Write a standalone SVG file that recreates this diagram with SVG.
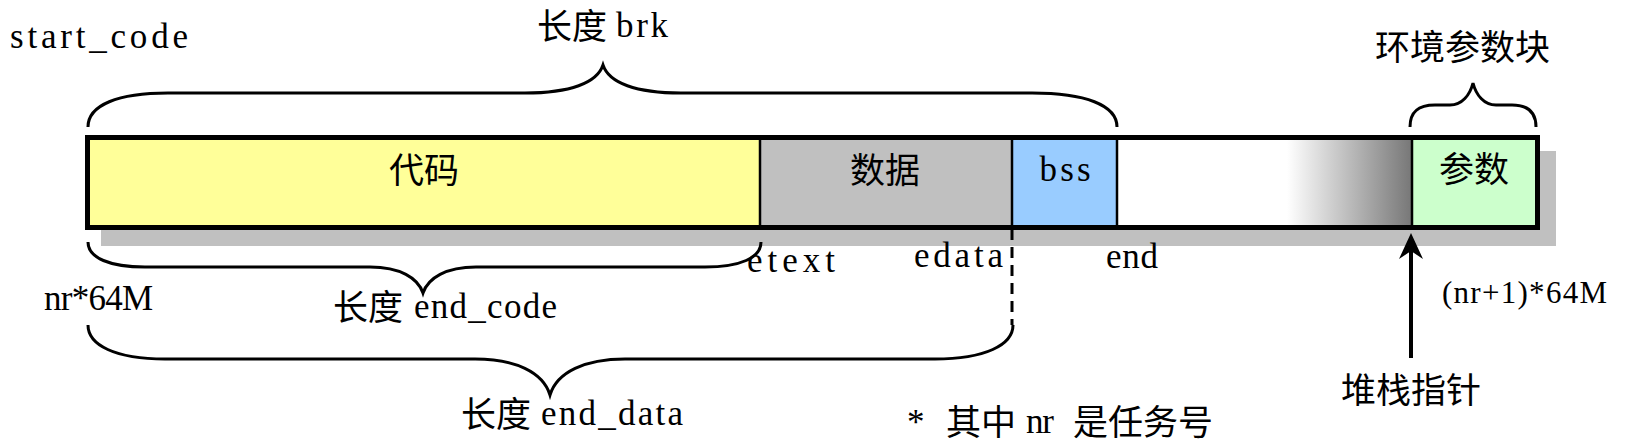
<svg xmlns="http://www.w3.org/2000/svg" width="1625" height="442" viewBox="0 0 1625 442">
<style>
.lat{font-family:"Liberation Serif","DejaVu Serif",serif;font-size:35px;fill:#000}
.cjk{font-family:"Noto Sans CJK SC","Noto Sans CJK TC",sans-serif;font-size:35px;fill:#000}
.brace{fill:none;stroke:#000;stroke-width:3}
.div{stroke:#000;stroke-width:2.5}
</style>
<defs>
<linearGradient id="fade" gradientUnits="userSpaceOnUse" x1="1287" y1="0" x2="1412" y2="0">
<stop offset="0" stop-color="#ffffff"/>
<stop offset="1" stop-color="#777777"/>
</linearGradient>
</defs>
<rect width="1625" height="442" fill="#ffffff"/>
<g id="shadow"><rect x="101" y="151" width="1455" height="95" fill="#c0c0c0"/></g>
<g id="seg-code"><rect x="88" y="138" width="672" height="89" fill="#ffff99"/><text class="cjk" x="424" y="183" text-anchor="middle">代码</text></g>
<g id="seg-data"><rect x="760" y="138" width="252" height="89" fill="#c0c0c0"/><text class="cjk" x="885" y="183" text-anchor="middle">数据</text></g>
<g id="seg-bss"><rect x="1012" y="138" width="105" height="89" fill="#99ccff"/><text class="lat" x="1065" y="181" text-anchor="middle" textLength="51">bss</text></g>
<g id="seg-free"><rect x="1117" y="138" width="295" height="89" fill="url(#fade)"/></g>
<g id="seg-params"><rect x="1412" y="138" width="125" height="89" fill="#ccffcc"/><text class="cjk" x="1474" y="182" text-anchor="middle">参数</text></g>
<g id="bar-frame">
<line class="div" x1="760" y1="138" x2="760" y2="227"/>
<line class="div" x1="1012" y1="138" x2="1012" y2="227"/>
<line class="div" x1="1117" y1="138" x2="1117" y2="227"/>
<line class="div" x1="1412" y1="138" x2="1412" y2="227"/>
<rect x="87.5" y="137.5" width="1450" height="90" fill="none" stroke="#000" stroke-width="5"/>
</g>
<g id="connectors">
<path class="brace" d="M88,127 C88,105 118,93 168,93 L525,93 C570,93 597,83 603,65 C609,83 636,93 681,93 L1032,93 C1085,93 1117,105 1117,127"/>
<path class="brace" d="M1410,127 C1410,112 1418,105 1435,105 L1450,105 C1462,105 1470,95 1473,83 C1476,95 1484,105 1496,105 L1512,105 C1528,105 1536,112 1536,127"/>
<path class="brace" d="M88,242 C88,258 110,267 145,267 L370,267 C400,267 418,278 423,293 C428,278 446,267 476,267 L705,267 C740,267 761,258 761,242"/>
<path class="brace" d="M88,325 C88,345 115,359 165,359 L475,359 C515,359 543,372 550,395 C557,372 585,359 625,359 L935,359 C985,359 1013,345 1013,325"/>
<line x1="1012" y1="229" x2="1012" y2="325" stroke="#000" stroke-width="3" stroke-dasharray="11,7"/>
<line x1="1411" y1="358" x2="1411" y2="250" stroke="#000" stroke-width="4"/>
<polygon points="1411,233 1423,259 1411,251 1399,259" fill="#000"/>
</g>
<g id="labels">
<text class="lat" x="10" y="48" textLength="178">start_code</text>
<text class="cjk" x="537" y="39">长度</text><text class="lat" x="616" y="37" textLength="52">brk</text>
<text class="cjk" x="1375" y="60">环境参数块</text>
<text class="lat" x="747" y="272" textLength="88">etext</text>
<text class="lat" x="914" y="267" textLength="89">edata</text>
<text class="lat" x="1106" y="268" textLength="52">end</text>
<text class="lat" x="44" y="310" textLength="109">nr*64M</text>
<text class="cjk" x="333" y="320">长度</text><text class="lat" x="414" y="318" textLength="143">end_code</text>
<text class="cjk" x="461" y="427">长度</text><text class="lat" x="541" y="425" textLength="142">end_data</text>
<text class="lat" x="1442" y="303" textLength="165" style="font-size:31px">(nr+1)*64M</text>
<text class="cjk" x="1341" y="403">堆栈指针</text>
<text class="lat" x="907" y="434">*</text>
<text class="cjk" x="946" y="435">其中</text>
<text class="lat" x="1026" y="433" textLength="28">nr</text>
<text class="cjk" x="1073" y="435">是任务号</text>
</g>
</svg>
